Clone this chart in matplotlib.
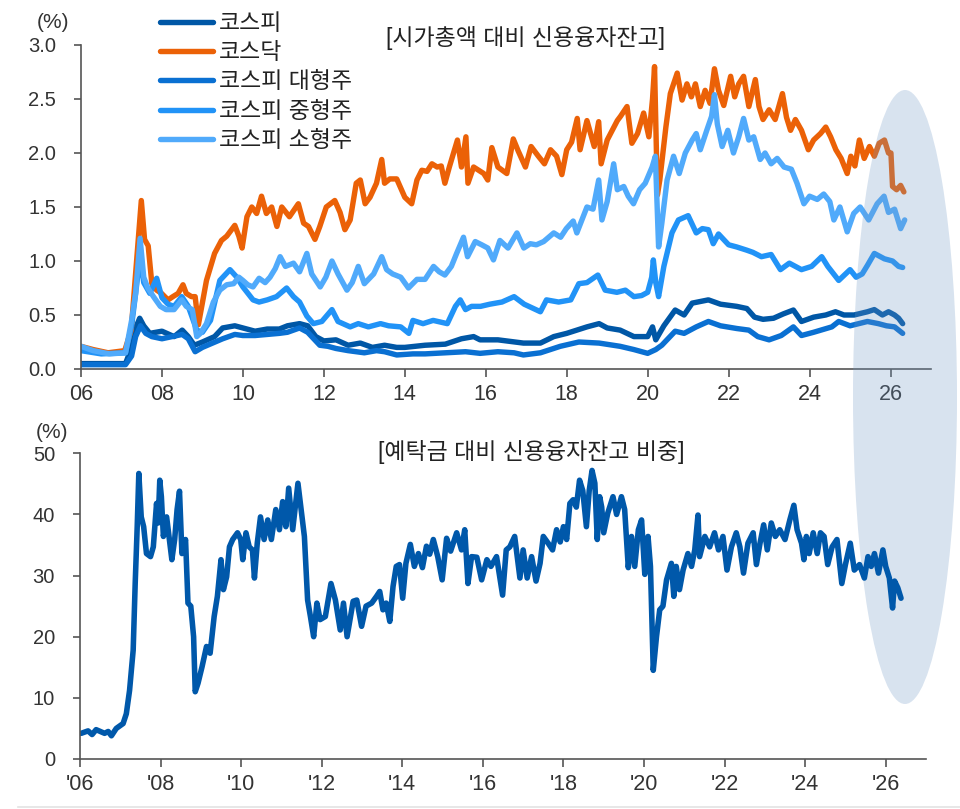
import matplotlib
matplotlib.use('Agg')
import matplotlib.pyplot as plt
from matplotlib.patches import Ellipse
from matplotlib.lines import Line2D

plt.rcParams['font.family'] = ['Liberation Sans', 'Noto Sans CJK KR']

# ---------------- data (decimal year, value) ----------------
kospi_pts = [(2006.0,0.05),(2007.1,0.05),(2007.25,0.20),(2007.35,0.38),(2007.45,0.47),(2007.55,0.40),(2007.7,0.33),
    (2008.0,0.35),(2008.3,0.30),(2008.5,0.36),(2008.65,0.30),(2008.8,0.22),(2009.0,0.25),(2009.3,0.30),(2009.5,0.38),
    (2009.8,0.40),(2010.0,0.38),(2010.3,0.35),(2010.6,0.37),(2010.9,0.37),(2011.1,0.40),(2011.4,0.42),(2011.6,0.40),
    (2011.8,0.30),(2012.0,0.26),(2012.3,0.27),(2012.6,0.22),(2012.9,0.24),(2013.2,0.20),(2013.5,0.22),(2013.8,0.20),
    (2014.0,0.20),(2014.5,0.22),(2015.0,0.23),(2015.4,0.28),(2015.7,0.30),(2015.86,0.27),(2016.3,0.27),(2016.93,0.24),
    (2017.35,0.24),(2017.68,0.30),(2018.0,0.33),(2018.5,0.39),(2018.8,0.42),(2019.0,0.38),(2019.32,0.36),(2019.66,0.30),
    (2020.0,0.30),(2020.12,0.39),(2020.2,0.27),(2020.4,0.40),(2020.68,0.546),(2020.9,0.50),(2021.1,0.61),(2021.5,0.64),
    (2021.8,0.60),(2022.2,0.58),(2022.45,0.56),(2022.64,0.48),(2022.85,0.46),(2023.11,0.47),(2023.35,0.51),(2023.6,0.546),
    (2023.8,0.44),(2024.1,0.48),(2024.4,0.50),(2024.64,0.53),(2024.85,0.50),(2025.1,0.50),(2025.43,0.53),(2025.6,0.55),
    (2025.8,0.50),(2025.95,0.53),(2026.1,0.50),(2026.2,0.47),(2026.3,0.42)]

kosdaq_pts = [(2006.00,0.21),(2006.30,0.18),(2006.67,0.15),(2007.08,0.17),(2007.24,0.36),(2007.35,0.89),(2007.49,1.56),
    (2007.57,1.20),(2007.66,1.14),(2007.75,0.79),(2007.87,0.73),(2007.99,0.70),(2008.15,0.64),(2008.27,0.67),(2008.40,0.70),
    (2008.52,0.78),(2008.60,0.70),(2008.73,0.67),(2008.82,0.67),(2008.90,0.41),(2009.10,0.82),(2009.30,1.07),(2009.47,1.19),
    (2009.60,1.23),(2009.80,1.33),(2009.90,1.23),(2009.98,1.12),(2010.10,1.41),(2010.22,1.50),(2010.34,1.44),(2010.46,1.60),
    (2010.58,1.44),(2010.71,1.50),(2010.84,1.32),(2010.96,1.50),(2011.15,1.41),(2011.37,1.53),(2011.50,1.35),(2011.62,1.32),
    (2011.78,1.20),(2011.90,1.32),(2012.06,1.50),(2012.27,1.56),(2012.40,1.45),(2012.52,1.29),(2012.65,1.38),(2012.80,1.72),
    (2012.90,1.75),(2013.02,1.53),(2013.14,1.59),(2013.30,1.72),(2013.43,1.94),(2013.50,1.72),(2013.63,1.76),(2013.80,1.76),
    (2014.00,1.59),(2014.17,1.53),(2014.30,1.75),(2014.42,1.84),(2014.55,1.83),(2014.67,1.90),(2014.80,1.87),(2014.90,1.88),
    (2014.99,1.72),(2015.10,1.87),(2015.30,2.12),(2015.40,1.87),(2015.45,2.00),(2015.51,2.15),(2015.56,1.72),(2015.70,1.87),
    (2015.95,1.81),(2016.05,1.75),(2016.15,2.05),(2016.30,1.87),(2016.52,1.81),(2016.68,2.13),(2016.80,2.02),(2016.98,1.87),
    (2017.12,2.06),(2017.30,1.97),(2017.45,1.90),(2017.60,2.03),(2017.75,1.97),(2017.88,1.80),(2018.00,2.03),(2018.12,2.10),
    (2018.26,2.32),(2018.33,2.03),(2018.50,2.30),(2018.68,2.06),(2018.79,2.29),(2018.85,1.90),(2019.00,2.12),(2019.25,2.30),
    (2019.33,2.34),(2019.49,2.43),(2019.61,2.09),(2019.75,2.18),(2019.90,2.37),(2020.03,2.15),(2020.12,2.50),(2020.17,2.80),
    (2020.24,1.61),(2020.30,1.75),(2020.45,2.24),(2020.56,2.55),(2020.73,2.74),(2020.85,2.49),(2020.97,2.64),(2021.08,2.52),
    (2021.18,2.64),(2021.30,2.43),(2021.42,2.58),(2021.54,2.46),(2021.65,2.78),(2021.75,2.58),(2021.88,2.44),(2022.05,2.71),
    (2022.15,2.52),(2022.25,2.64),(2022.37,2.71),(2022.50,2.43),(2022.66,2.68),(2022.75,2.43),(2022.85,2.31),(2023.00,2.40),
    (2023.15,2.31),(2023.33,2.55),(2023.43,2.33),(2023.53,2.21),(2023.65,2.31),(2023.80,2.21),(2023.97,2.03),(2024.10,2.12),
    (2024.27,2.18),(2024.40,2.24),(2024.52,2.15),(2024.65,2.03),(2024.78,1.95),(2024.93,1.81),(2025.02,1.97),(2025.12,1.88),
    (2025.23,2.12),(2025.35,1.95),(2025.48,2.06),(2025.60,1.97),(2025.72,2.09),(2025.85,2.12),(2025.95,2.00),(2026.01,2.00),
    (2026.05,1.69),(2026.15,1.66),(2026.25,1.70),(2026.33,1.64)]

large_pts = [(2006.0,0.04),(2007.1,0.04),(2007.25,0.12),(2007.35,0.30),(2007.47,0.40),(2007.6,0.33),(2007.75,0.30),
    (2008.0,0.28),(2008.25,0.30),(2008.5,0.32),(2008.65,0.28),(2008.82,0.16),(2009.0,0.20),(2009.25,0.24),(2009.5,0.28),
    (2009.8,0.32),(2010.0,0.31),(2010.3,0.31),(2010.6,0.32),(2010.9,0.33),(2011.1,0.34),(2011.4,0.38),(2011.6,0.34),
    (2011.75,0.28),(2011.9,0.22),(2012.1,0.21),(2012.3,0.19),(2012.6,0.17),(2013.0,0.15),(2013.3,0.17),(2013.5,0.16),
    (2013.8,0.13),(2014.2,0.14),(2014.5,0.14),(2015.0,0.15),(2015.5,0.16),(2015.86,0.145),(2016.3,0.16),(2016.7,0.15),
    (2016.93,0.13),(2017.35,0.15),(2017.84,0.21),(2018.3,0.25),(2018.8,0.24),(2019.32,0.21),(2019.66,0.18),(2020.0,0.145),
    (2020.2,0.18),(2020.35,0.22),(2020.68,0.35),(2020.9,0.33),(2021.2,0.39),(2021.5,0.44),(2021.8,0.40),(2022.2,0.375),
    (2022.5,0.36),(2022.72,0.30),(2023.0,0.27),(2023.3,0.31),(2023.6,0.39),(2023.8,0.31),(2024.1,0.34),(2024.55,0.39),
    (2024.72,0.44),(2025.0,0.40),(2025.43,0.44),(2025.7,0.42),(2025.9,0.40),(2026.1,0.39),(2026.2,0.36),(2026.3,0.33)]

mid_pts = [(2006.0,0.17),(2006.5,0.14),(2007.1,0.15),(2007.25,0.40),(2007.35,0.70),(2007.46,1.05),(2007.55,0.80),
    (2007.7,0.70),(2007.87,0.84),(2008.0,0.66),(2008.15,0.60),(2008.3,0.58),(2008.49,0.67),(2008.65,0.58),(2008.86,0.36),
    (2009.0,0.34),(2009.2,0.45),(2009.43,0.82),(2009.68,0.92),(2009.85,0.85),(2010.0,0.76),(2010.25,0.64),(2010.4,0.62),
    (2010.6,0.64),(2010.83,0.67),(2011.08,0.75),(2011.25,0.67),(2011.4,0.62),(2011.58,0.49),(2011.74,0.42),(2011.95,0.44),
    (2012.2,0.55),(2012.35,0.44),(2012.65,0.39),(2012.85,0.42),(2013.1,0.39),(2013.4,0.42),(2013.6,0.40),(2013.9,0.39),
    (2014.1,0.33),(2014.2,0.45),(2014.45,0.42),(2014.7,0.45),(2015.05,0.42),(2015.25,0.58),(2015.37,0.64),(2015.5,0.55),
    (2015.65,0.58),(2015.87,0.58),(2016.1,0.60),(2016.4,0.62),(2016.7,0.67),(2016.95,0.60),(2017.35,0.53),(2017.5,0.64),
    (2017.8,0.62),(2018.1,0.64),(2018.3,0.79),(2018.5,0.80),(2018.77,0.87),(2018.95,0.73),(2019.24,0.71),(2019.45,0.73),
    (2019.66,0.67),(2019.85,0.68),(2020.0,0.71),(2020.1,0.85),(2020.14,1.01),(2020.2,0.80),(2020.27,0.67),(2020.4,0.95),
    (2020.6,1.26),(2020.76,1.38),(2021.0,1.42),(2021.2,1.26),(2021.35,1.30),(2021.5,1.29),(2021.62,1.16),(2021.75,1.25),
    (2022.0,1.15),(2022.2,1.13),(2022.45,1.10),(2022.6,1.08),(2022.81,1.04),(2023.05,1.06),(2023.28,0.92),(2023.5,0.98),
    (2023.8,0.92),(2024.05,0.95),(2024.3,1.04),(2024.45,0.95),(2024.72,0.82),(2025.0,0.92),(2025.15,0.85),(2025.3,0.88),
    (2025.43,0.96),(2025.6,1.07),(2025.75,1.04),(2025.85,1.02),(2026.05,1.00),(2026.2,0.95),(2026.3,0.94)]

small_pts = [(2006.0,0.21),(2006.3,0.17),(2006.7,0.14),(2007.1,0.15),(2007.25,0.45),(2007.35,0.70),(2007.46,1.21),
    (2007.55,0.85),(2007.65,0.75),(2007.79,0.67),(2007.96,0.58),(2008.1,0.55),(2008.3,0.55),(2008.49,0.64),(2008.6,0.58),
    (2008.75,0.55),(2008.86,0.30),(2008.95,0.33),(2009.1,0.42),(2009.27,0.62),(2009.43,0.73),(2009.6,0.78),(2009.77,0.79),
    (2009.9,0.85),(2010.0,0.82),(2010.12,0.78),(2010.25,0.76),(2010.4,0.84),(2010.55,0.80),(2010.67,0.85),(2010.8,0.93),
    (2010.92,1.04),(2011.05,0.95),(2011.25,0.98),(2011.4,0.90),(2011.58,1.07),(2011.7,0.88),(2011.91,0.76),(2012.05,0.85),
    (2012.2,1.00),(2012.35,0.88),(2012.57,0.73),(2012.7,0.80),(2012.85,0.95),(2013.0,0.79),(2013.23,0.88),(2013.43,1.04),
    (2013.55,0.92),(2013.7,0.88),(2013.9,0.85),(2014.09,0.75),(2014.3,0.83),(2014.5,0.83),(2014.71,0.95),(2014.85,0.90),
    (2014.99,0.87),(2015.15,0.95),(2015.28,1.07),(2015.45,1.22),(2015.55,1.04),(2015.74,1.18),(2015.9,1.15),(2016.05,1.12),
    (2016.19,1.01),(2016.35,1.19),(2016.55,1.12),(2016.77,1.26),(2016.94,1.12),(2017.1,1.16),(2017.25,1.15),(2017.43,1.18),
    (2017.68,1.26),(2017.85,1.22),(2017.99,1.30),(2018.16,1.37),(2018.25,1.26),(2018.5,1.50),(2018.65,1.48),(2018.79,1.75),
    (2018.87,1.38),(2019.0,1.55),(2019.16,1.90),(2019.25,1.66),(2019.41,1.69),(2019.52,1.60),(2019.65,1.53),(2019.8,1.66),
    (2019.94,1.72),(2020.11,1.87),(2020.19,1.97),(2020.27,1.13),(2020.35,1.35),(2020.48,1.75),(2020.64,1.97),(2020.78,1.81),
    (2020.93,2.00),(2021.1,2.12),(2021.2,2.18),(2021.3,2.03),(2021.46,2.21),(2021.58,2.34),(2021.65,2.54),(2021.72,2.27),
    (2021.84,2.06),(2021.98,2.21),(2022.12,2.00),(2022.25,2.15),(2022.37,2.32),(2022.5,2.12),(2022.62,2.15),(2022.78,1.94),
    (2022.9,2.00),(2023.05,1.90),(2023.2,1.95),(2023.37,1.87),(2023.55,1.85),(2023.69,1.72),(2023.86,1.53),(2024.0,1.60),
    (2024.19,1.57),(2024.35,1.62),(2024.5,1.55),(2024.6,1.38),(2024.75,1.50),(2024.93,1.27),(2025.09,1.44),(2025.25,1.50),
    (2025.46,1.38),(2025.67,1.53),(2025.84,1.60),(2025.95,1.45),(2026.1,1.48),(2026.25,1.30),(2026.35,1.38)]

deposit_pts = [(2006.03,4.2),(2006.2,4.6),(2006.3,4.0),(2006.4,4.8),(2006.61,4.2),(2006.7,4.5),(2006.78,3.8),(2006.9,5.0),
    (2007.07,5.8),(2007.15,7.4),(2007.23,11.2),(2007.32,17.8),(2007.37,28.7),(2007.42,38.0),(2007.46,46.7),(2007.52,39.6),
    (2007.58,38.0),(2007.65,33.6),(2007.75,33.1),(2007.82,34.7),(2007.90,41.8),(2007.94,38.6),(2007.98,45.6),(2008.02,42.9),
    (2008.07,36.4),(2008.15,39.6),(2008.28,32.6),(2008.35,35.9),(2008.41,40.8),(2008.47,43.8),(2008.53,33.6),(2008.62,35.9),
    (2008.68,25.5),(2008.75,25.0),(2008.82,20.0),(2008.86,11.0),(2008.93,12.4),(2009.03,15.1),(2009.14,18.4),(2009.23,17.3),
    (2009.33,23.3),(2009.41,26.6),(2009.50,32.6),(2009.56,27.7),(2009.64,29.8),(2009.71,34.7),(2009.79,35.9),(2009.91,37.0),
    (2009.99,35.9),(2010.04,32.6),(2010.12,37.0),(2010.20,34.7),(2010.28,34.2),(2010.33,29.6),(2010.40,35.3),(2010.48,39.6),
    (2010.57,35.9),(2010.66,39.1),(2010.75,35.9),(2010.86,40.8),(2010.95,37.5),(2011.03,42.1),(2011.11,38.0),(2011.18,44.3),
    (2011.28,37.5),(2011.41,45.1),(2011.49,40.8),(2011.57,36.4),(2011.65,26.0),(2011.72,23.3),(2011.80,20.0),(2011.88,25.5),
    (2011.96,22.8),(2012.09,23.3),(2012.23,28.7),(2012.34,26.0),(2012.46,21.1),(2012.54,25.5),(2012.63,20.0),(2012.78,25.8),
    (2012.87,26.0),(2012.99,21.7),(2013.10,25.0),(2013.24,25.5),(2013.36,26.6),(2013.44,27.4),(2013.52,24.4),(2013.60,25.5),
    (2013.69,22.5),(2013.77,28.2),(2013.85,31.5),(2013.93,31.8),(2014.01,26.3),(2014.09,32.0),(2014.20,35.1),(2014.30,31.5),
    (2014.40,33.6),(2014.50,31.3),(2014.60,34.8),(2014.68,33.5),(2014.77,35.9),(2014.88,33.1),(2014.99,29.3),(2015.10,36.1),
    (2015.20,34.0),(2015.35,37.0),(2015.47,34.2),(2015.55,37.5),(2015.63,28.7),(2015.72,33.1),(2015.85,33.0),(2015.97,29.3),
    (2016.10,32.6),(2016.20,31.5),(2016.34,33.1),(2016.49,26.8),(2016.58,34.2),(2016.67,34.7),(2016.79,36.4),(2016.92,29.6),
    (2017.00,34.2),(2017.10,29.6),(2017.21,33.1),(2017.32,29.1),(2017.42,32.0),(2017.50,36.4),(2017.62,35.3),(2017.73,34.2),
    (2017.83,37.5),(2017.92,35.5),(2018.00,38.0),(2018.08,35.9),(2018.16,41.8),(2018.24,42.4),(2018.32,41.2),(2018.40,45.6),
    (2018.48,43.9),(2018.57,38.0),(2018.64,43.9),(2018.71,47.2),(2018.78,45.1),(2018.84,35.9),(2018.90,42.9),(2018.95,41.2),
    (2019.00,37.0),(2019.10,40.2),(2019.23,42.9),(2019.32,40.0),(2019.44,42.9),(2019.52,40.8),(2019.61,31.3),(2019.69,36.4),
    (2019.77,31.5),(2019.86,37.5),(2019.94,39.1),(2020.02,30.2),(2020.10,36.4),(2020.16,31.5),(2020.23,14.5),(2020.31,20.0),
    (2020.39,24.4),(2020.47,25.0),(2020.56,29.3),(2020.68,32.0),(2020.74,26.6),(2020.80,31.5),(2020.88,27.7),(2020.97,30.9),
    (2021.09,33.6),(2021.18,31.5),(2021.26,34.2),(2021.34,39.9),(2021.38,33.1),(2021.51,36.4),(2021.63,34.7),(2021.75,37.0),
    (2021.85,34.2),(2021.96,36.4),(2022.06,30.9),(2022.17,34.7),(2022.29,37.0),(2022.38,34.7),(2022.47,30.4),(2022.58,35.3),
    (2022.71,37.0),(2022.79,31.8),(2022.88,35.3),(2022.97,38.3),(2023.06,34.2),(2023.16,38.6),(2023.26,36.4),(2023.37,37.5),
    (2023.50,35.9),(2023.62,39.1),(2023.72,41.5),(2023.80,37.5),(2023.91,35.3),(2023.97,32.6),(2024.03,36.4),(2024.10,33.6),
    (2024.20,37.0),(2024.30,33.6),(2024.38,37.0),(2024.47,36.4),(2024.56,31.8),(2024.67,34.7),(2024.79,35.9),(2024.91,28.7),
    (2025.00,31.8),(2025.12,35.3),(2025.22,30.9),(2025.35,31.8),(2025.47,29.6),(2025.56,33.1),(2025.64,31.5),(2025.72,33.6),
    (2025.82,30.4),(2025.93,34.2),(2026.00,31.5),(2026.09,29.6),(2026.17,24.7),(2026.22,29.1),(2026.30,28.0),(2026.38,26.3)]

series_names = ['코스피', '코스닥', '코스피 대형주', '코스피 중형주', '코스피 소형주']
series_colors = ['#0057A6', '#EB6107', '#0A70D2', '#2193F7', '#50AAFB']
top_series = [kospi_pts, kosdaq_pts, large_pts, mid_pts, small_pts]
top_yticks = [0.0, 0.5, 1.0, 1.5, 2.0, 2.5, 3.0]
bottom_yticks = [0, 10, 20, 30, 40, 50]
xtick_years = list(range(2006, 2027, 2))
top_xlabels = ['%02d' % (y % 100) for y in xtick_years]
bottom_xlabels = ["'%02d" % (y % 100) for y in xtick_years]
top_title = '[시가총액 대비 신용융자잔고]'
bottom_title = '[예탁금 대비 신용융자잔고 비중]'
deposit_color = '#0058AA'

# ---------------- figure ----------------
W, H = 960, 809
fig = plt.figure(figsize=(W / 100, H / 100), dpi=100)
ax1 = fig.add_axes([81 / W, 1 - 369 / H, (931 - 81) / W, (369 - 45) / H], zorder=0)
ax2 = fig.add_axes([80 / W, 1 - 759 / H, (926 - 80) / W, (759 - 453.3) / H], zorder=1)
ax2.set_facecolor('none')

spine_c = '#555555'
for ax in (ax1, ax2):
    for s in ('top', 'right'):
        ax.spines[s].set_visible(False)
    for s in ('left', 'bottom'):
        ax.spines[s].set_color(spine_c)
        ax.spines[s].set_linewidth(1.2)
    ax.tick_params(axis='y', direction='out', length=5, width=1.2, color=spine_c,
                   pad=13, labelsize=14.5, labelcolor='#333333')
    ax.tick_params(axis='x', direction='out', length=6, width=1.2, color=spine_c,
                   pad=5, labelsize=15.5, labelcolor='#333333')
    ax.set_xlim(2006, 2027)
    ax.set_xticks(xtick_years)

handles = []
for pts, name, col in zip(top_series, series_names, series_colors):
    xs = [p[0] for p in pts]
    ys = [p[1] for p in pts]
    ln, = ax1.plot(xs, ys, color=col, lw=3.9, label=name,
                   solid_joinstyle='round', solid_capstyle='round')
    handles.append(ln)
ax1.set_ylim(0, 3.0)
ax1.set_yticks(top_yticks)
ax1.set_yticklabels(['%.1f' % v for v in top_yticks])
ax1.set_xticklabels(top_xlabels)

dx = [p[0] for p in deposit_pts]
dy = [p[1] for p in deposit_pts]
ax2.plot(dx, dy, color=deposit_color, lw=4.0, solid_joinstyle='round', solid_capstyle='round')
ax2.set_ylim(0, 50)
ax2.set_yticks(bottom_yticks)
ax2.set_xticklabels(bottom_xlabels)

leg = ax1.legend(handles=handles, labels=series_names, loc='upper left',
                 bbox_to_anchor=(160 / W, 1 - 12 / H), bbox_transform=fig.transFigure,
                 frameon=False, borderpad=0, borderaxespad=0, handlelength=2.3,
                 handletextpad=0.28, labelspacing=0.27, fontsize=16.5)
for t in leg.get_texts():
    t.set_color('#222222')

fig.text(526 / W, 1 - 38 / H, top_title, ha='center', va='center', fontsize=16.5, color='#222222')
fig.text(531 / W, 1 - 452 / H, bottom_title, ha='center', va='center', fontsize=16.5, color='#222222')
fig.text(53 / W, 1 - 23 / H, '(%)', ha='center', va='center', fontsize=15, color='#333333')
fig.text(52 / W, 1 - 432 / H, '(%)', ha='center', va='center', fontsize=15, color='#333333')

ell = Ellipse((905 / W, 1 - 397 / H), width=104 / W, height=614 / H, transform=fig.transFigure,
              facecolor='#6f98c6', alpha=0.27, edgecolor='none', zorder=0.5)
fig.add_artist(ell)
fig.add_artist(Line2D([18 / W, 1.0], [1 - 807 / H, 1 - 807 / H], transform=fig.transFigure,
                      color='#e3e3e3', lw=1.2))

fig.savefig('out.png', dpi=100)
